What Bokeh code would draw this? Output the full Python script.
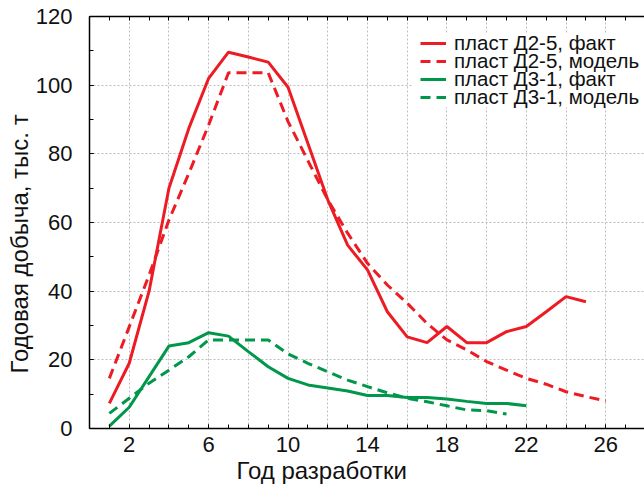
from bokeh.plotting import figure
from bokeh.models import (Range1d, FixedTicker, LinearAxis, Legend, LegendItem, Title,
                          BoxAnnotation)
from bokeh.embed import file_html
from bokeh.resources import INLINE

# ---- data ----
years_d25_fact = list(range(1, 26))
d25_fact = [7.3, 19, 40, 70, 87.4, 102, 109.6, 108.2, 106.7, 99.4, 83, 66.6, 53.4,
            46.2, 34, 26.7, 25, 29.7, 25, 25, 28.2, 29.7, 34, 38.4, 36.9]
years_d25_model = list(range(1, 27))
d25_model = [14.6, 29.6, 44.7, 60.7, 74.3, 88.4, 103.6, 103.6, 103.6, 89.4, 78, 66.6,
             56.9, 48.1, 41.8, 36.5, 30.6, 25.8, 22.9, 19.5, 17, 14.6, 12.9, 10.7, 9.3, 8.0]
years_d31_fact = list(range(1, 23))
d31_fact = [0.7, 6.2, 15.1, 24, 25, 27.9, 26.9, 22.4, 18, 14.6, 12.7, 11.8, 10.9, 9.6,
            9.6, 9.0, 9.0, 8.6, 7.9, 7.3, 7.3, 6.6]
years_d31_model = list(range(1, 22))
d31_model = [4.4, 8.8, 13.2, 17.0, 20.9, 25.8, 25.8, 25.8, 25.8, 21.7, 19.0, 16.5, 14.1,
             12.2, 10.4, 8.8, 7.8, 6.6, 5.4, 5.2, 4.2]

series_labels = ["пласт Д2-5, факт", "пласт Д2-5, модель",
                 "пласт Д3-1, факт", "пласт Д3-1, модель"]
x_tick_labels = [2, 6, 10, 14, 18, 22, 26]
x_grid_ticks = [2, 4, 6, 8, 10, 12, 14, 16, 18, 20, 22, 24, 26]
x_minor = list(range(0, 28))
y_tick_labels = [0, 20, 40, 60, 80, 100, 120]
y_grid_ticks = [20, 40, 60, 80, 100]
y_minor = list(range(0, 121, 10))

x_title = "Год разработки"
y_title = "Годовая добыча, тыс. т"

RED = "#ED1C24"
GREEN = "#00974A"
FONT = "Liberation Sans"
TXT = "#111111"

X_END = 27.95
p = figure(width=644, height=491, output_backend="svg", toolbar_location=None,
           x_range=Range1d(0, X_END), y_range=Range1d(0, 120),
           min_border_left=89, min_border_right=0, min_border_top=16, min_border_bottom=63)
p.outline_line_color = None
p.background_fill_color = "white"

r1 = p.line(years_d25_fact, d25_fact, line_color=RED, line_width=3)
r2 = p.line(years_d25_model, d25_model, line_color=RED, line_width=3, line_dash="10 6")
r3 = p.line(years_d31_fact, d31_fact, line_color=GREEN, line_width=3)
r4 = p.line(years_d31_model, d31_model, line_color=GREEN, line_width=3, line_dash="10 6")

# axes
xa = p.xaxis[0]
xa.ticker = FixedTicker(ticks=x_tick_labels, minor_ticks=x_minor)
ya = p.yaxis[0]
ya.ticker = FixedTicker(ticks=y_tick_labels, minor_ticks=y_minor)
for ax in (xa, ya):
    ax.axis_line_color = "black"
    ax.axis_line_width = 1.5
    ax.major_tick_in = 4
    ax.major_tick_out = 0
    ax.minor_tick_in = 4
    ax.minor_tick_out = 0
    ax.major_tick_line_color = "black"
    ax.minor_tick_line_color = "black"
    ax.major_label_text_font = FONT
    ax.major_label_text_font_size = "22px"
    ax.major_label_text_color = TXT
xa.major_label_standoff = 8
ya.major_label_standoff = 17

# axis titles (offset along the axis like in the original)
xt = Title(text=x_title, align="left", offset=147, standoff=0,
           text_font=FONT, text_font_size="24px", text_font_style="normal",
           text_color=TXT)
p.add_layout(xt, "below")
yt = Title(text=y_title, align="left", offset=55, standoff=0,
           text_font=FONT, text_font_size="24px", text_font_style="normal",
           text_color=TXT)
p.add_layout(yt, "left")

top = LinearAxis(ticker=FixedTicker(ticks=[], minor_ticks=x_minor),
                 major_label_text_font_size="0px", major_label_standoff=0,
                 axis_line_color="black", axis_line_width=1.5,
                 major_tick_in=4, major_tick_out=0, minor_tick_in=4, minor_tick_out=0,
                 minor_tick_line_color="black")
p.add_layout(top, "above")

# grid
p.xgrid.ticker = FixedTicker(ticks=x_grid_ticks)
p.ygrid.ticker = FixedTicker(ticks=y_grid_ticks)
for g in (p.xgrid, p.ygrid):
    g.grid_line_color = "#bdbdbd"
    g.grid_line_dash = "2 2"
    g.grid_line_width = 1

# white panel behind the legend
p.add_layout(BoxAnnotation(left=16.3, right=X_END, bottom=93.6, top=115.2,
                           fill_color="white", fill_alpha=1.0, line_color=None))

# legend: one row per Legend so that rows can sit closer than Bokeh's default pitch
row_y = [373, 355, 337, 319]
for r, lab, yy in zip([r1, r2, r3, r4], series_labels, row_y):
    lg = Legend(items=[LegendItem(label=lab, renderers=[r])],
                location=(331, yy), label_text_font=FONT, label_text_font_size="20.5px",
                label_text_color=TXT, glyph_width=26, glyph_height=18, label_height=18,
                label_standoff=8, spacing=0, padding=0, margin=0,
                border_line_color=None, background_fill_alpha=0.0)
    p.add_layout(lg)

open("out.html", "w").write(file_html(p, INLINE))
